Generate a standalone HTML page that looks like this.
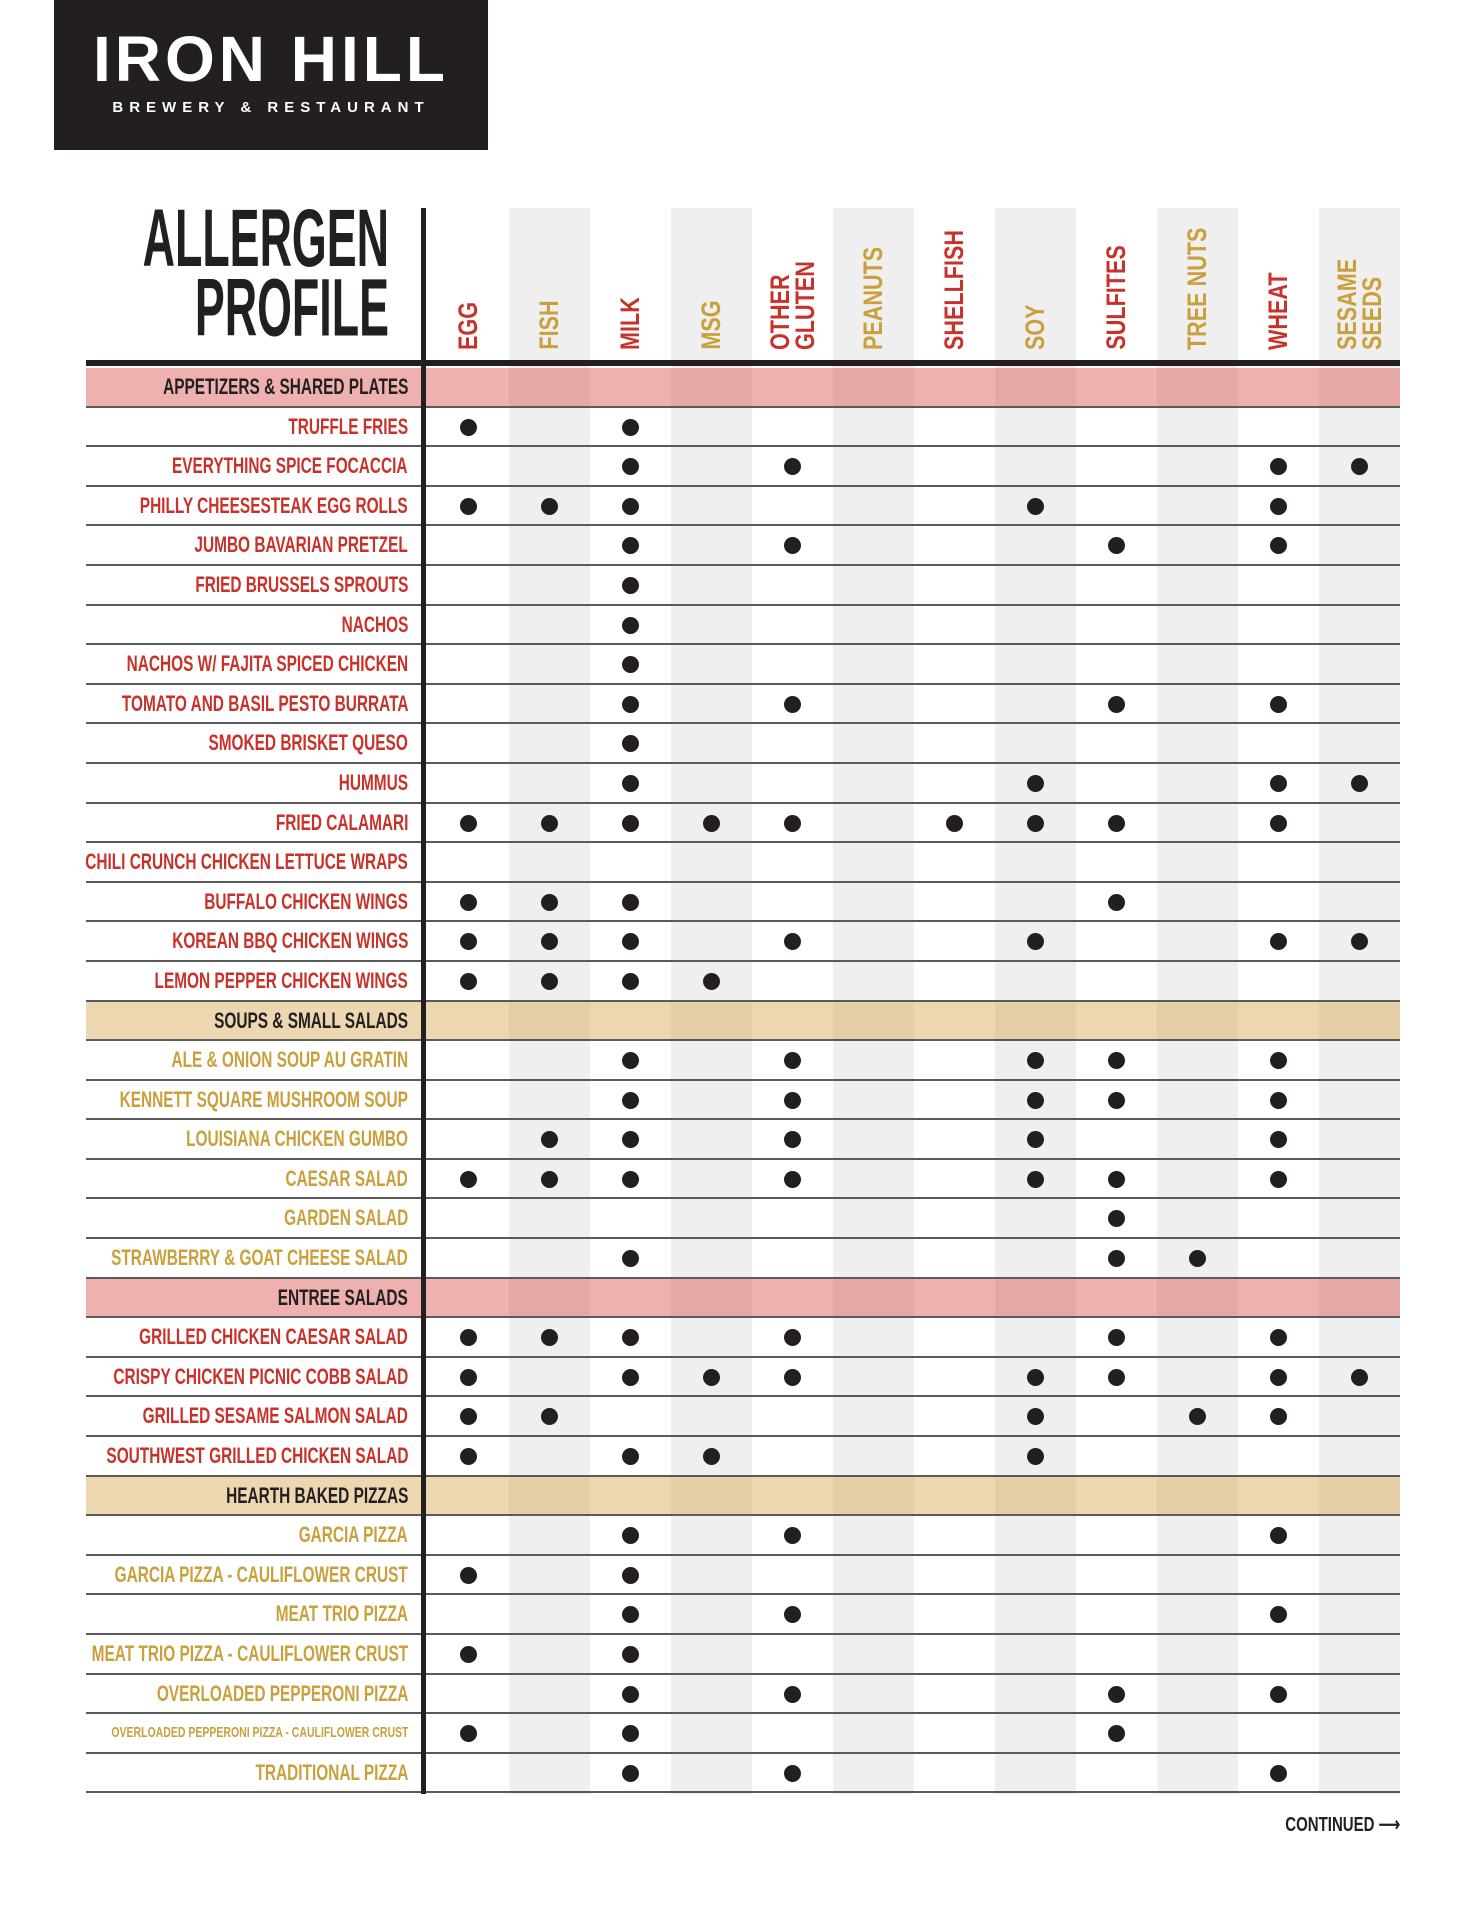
<!DOCTYPE html>
<html><head><meta charset="utf-8"><style>
*{margin:0;padding:0;box-sizing:border-box}
body{width:1484px;height:1920px;background:#fff;position:relative;overflow:hidden;font-family:"Liberation Sans Narrow","Liberation Sans",sans-serif;font-weight:bold}
.logo{position:absolute;left:54px;top:0;width:434px;height:150px;background:#231f20;color:#fff;text-align:center}
.logo .big{position:absolute;left:0;right:0;top:22px;font-size:64px;letter-spacing:4px;font-family:"Liberation Sans",sans-serif;font-weight:bold}
.logo .small{position:absolute;left:0;right:0;top:99px;font-size:15px;letter-spacing:6px}
.title{position:absolute;right:1095px;top:204px;font-size:80px;line-height:68px;text-align:right;color:#231f20;transform:scale(0.56,1.02);transform-origin:right top}
.band{position:absolute;top:208px;height:1586px;width:81px;background:#efefef}
.vline{position:absolute;left:421px;top:208px;width:5px;height:1586px;background:#231f20;z-index:5}
.thick{position:absolute;left:86px;top:360px;width:1314px;height:6px;background:#231f20;z-index:4}
.hd{position:absolute;top:150px;height:200px;width:81px;display:flex;justify-content:center;align-items:flex-end;transform:scaleY(0.8);transform-origin:center bottom}
.hd span{writing-mode:vertical-rl;transform:rotate(180deg);font-size:27px;line-height:25px}
.r{color:#c8322a}.g{color:#c9a03c}
.rows{position:absolute;left:86px;top:368px;width:1314px}
.row{height:39.6px;position:relative;border-bottom:2px solid #5a5a5a}
.row .lab{position:absolute;right:992px;top:0;height:38px;line-height:38px;font-size:22px;white-space:nowrap;transform:scaleX(0.70);transform-origin:right center}
.sec{background:rgba(215,70,65,.42)}
.sec .lab{color:#231f20}
.tan{background:rgba(210,160,70,.42)}
.tan .lab{color:#231f20}
.d{position:absolute;width:17px;height:17px;border-radius:50%;background:#231f20;top:11px}
.cont{position:absolute;right:84px;top:1812px;font-size:20px;color:#231f20;transform:scaleX(0.75);transform-origin:right center;white-space:nowrap}
</style></head><body>
<div class="logo"><div class="big">IRON HILL</div><div class="small">BREWERY &amp; RESTAURANT</div></div>
<div class="title">ALLERGEN<br>PROFILE</div>
<div class="band" style="left:509px"></div>
<div class="band" style="left:671px"></div>
<div class="band" style="left:833px"></div>
<div class="band" style="left:995px"></div>
<div class="band" style="left:1157px"></div>
<div class="band" style="left:1319px"></div>
<div class="vline"></div>
<div class="thick"></div>
<div class="hd r" style="left:428px"><span>EGG</span></div>
<div class="hd g" style="left:509px"><span>FISH</span></div>
<div class="hd r" style="left:590px"><span>MILK</span></div>
<div class="hd g" style="left:671px"><span>MSG</span></div>
<div class="hd r" style="left:752px"><span>OTHER<br>GLUTEN</span></div>
<div class="hd g" style="left:833px"><span>PEANUTS</span></div>
<div class="hd r" style="left:914px"><span>SHELLFISH</span></div>
<div class="hd g" style="left:995px"><span>SOY</span></div>
<div class="hd r" style="left:1076px"><span>SULFITES</span></div>
<div class="hd g" style="left:1157px"><span>TREE NUTS</span></div>
<div class="hd r" style="left:1238px"><span>WHEAT</span></div>
<div class="hd g" style="left:1319px"><span>SESAME<br>SEEDS</span></div>
<div class="rows">
<div class="row sec"><div class="lab">APPETIZERS &amp; SHARED PLATES</div></div>
<div class="row r"><div class="lab">TRUFFLE FRIES</div><i class="d" style="left:374px"></i><i class="d" style="left:536px"></i></div>
<div class="row r"><div class="lab">EVERYTHING SPICE FOCACCIA</div><i class="d" style="left:536px"></i><i class="d" style="left:698px"></i><i class="d" style="left:1184px"></i><i class="d" style="left:1265px"></i></div>
<div class="row r"><div class="lab">PHILLY CHEESESTEAK EGG ROLLS</div><i class="d" style="left:374px"></i><i class="d" style="left:455px"></i><i class="d" style="left:536px"></i><i class="d" style="left:941px"></i><i class="d" style="left:1184px"></i></div>
<div class="row r"><div class="lab">JUMBO BAVARIAN PRETZEL</div><i class="d" style="left:536px"></i><i class="d" style="left:698px"></i><i class="d" style="left:1022px"></i><i class="d" style="left:1184px"></i></div>
<div class="row r"><div class="lab">FRIED BRUSSELS SPROUTS</div><i class="d" style="left:536px"></i></div>
<div class="row r"><div class="lab">NACHOS</div><i class="d" style="left:536px"></i></div>
<div class="row r"><div class="lab">NACHOS W/ FAJITA SPICED CHICKEN</div><i class="d" style="left:536px"></i></div>
<div class="row r"><div class="lab">TOMATO AND BASIL PESTO BURRATA</div><i class="d" style="left:536px"></i><i class="d" style="left:698px"></i><i class="d" style="left:1022px"></i><i class="d" style="left:1184px"></i></div>
<div class="row r"><div class="lab">SMOKED BRISKET QUESO</div><i class="d" style="left:536px"></i></div>
<div class="row r"><div class="lab">HUMMUS</div><i class="d" style="left:536px"></i><i class="d" style="left:941px"></i><i class="d" style="left:1184px"></i><i class="d" style="left:1265px"></i></div>
<div class="row r"><div class="lab">FRIED CALAMARI</div><i class="d" style="left:374px"></i><i class="d" style="left:455px"></i><i class="d" style="left:536px"></i><i class="d" style="left:617px"></i><i class="d" style="left:698px"></i><i class="d" style="left:860px"></i><i class="d" style="left:941px"></i><i class="d" style="left:1022px"></i><i class="d" style="left:1184px"></i></div>
<div class="row r"><div class="lab">CHILI CRUNCH CHICKEN LETTUCE WRAPS</div></div>
<div class="row r"><div class="lab">BUFFALO CHICKEN WINGS</div><i class="d" style="left:374px"></i><i class="d" style="left:455px"></i><i class="d" style="left:536px"></i><i class="d" style="left:1022px"></i></div>
<div class="row r"><div class="lab">KOREAN BBQ CHICKEN WINGS</div><i class="d" style="left:374px"></i><i class="d" style="left:455px"></i><i class="d" style="left:536px"></i><i class="d" style="left:698px"></i><i class="d" style="left:941px"></i><i class="d" style="left:1184px"></i><i class="d" style="left:1265px"></i></div>
<div class="row r"><div class="lab">LEMON PEPPER CHICKEN WINGS</div><i class="d" style="left:374px"></i><i class="d" style="left:455px"></i><i class="d" style="left:536px"></i><i class="d" style="left:617px"></i></div>
<div class="row tan"><div class="lab">SOUPS &amp; SMALL SALADS</div></div>
<div class="row g"><div class="lab">ALE &amp; ONION SOUP AU GRATIN</div><i class="d" style="left:536px"></i><i class="d" style="left:698px"></i><i class="d" style="left:941px"></i><i class="d" style="left:1022px"></i><i class="d" style="left:1184px"></i></div>
<div class="row g"><div class="lab">KENNETT SQUARE MUSHROOM SOUP</div><i class="d" style="left:536px"></i><i class="d" style="left:698px"></i><i class="d" style="left:941px"></i><i class="d" style="left:1022px"></i><i class="d" style="left:1184px"></i></div>
<div class="row g"><div class="lab">LOUISIANA CHICKEN GUMBO</div><i class="d" style="left:455px"></i><i class="d" style="left:536px"></i><i class="d" style="left:698px"></i><i class="d" style="left:941px"></i><i class="d" style="left:1184px"></i></div>
<div class="row g"><div class="lab">CAESAR SALAD</div><i class="d" style="left:374px"></i><i class="d" style="left:455px"></i><i class="d" style="left:536px"></i><i class="d" style="left:698px"></i><i class="d" style="left:941px"></i><i class="d" style="left:1022px"></i><i class="d" style="left:1184px"></i></div>
<div class="row g"><div class="lab">GARDEN SALAD</div><i class="d" style="left:1022px"></i></div>
<div class="row g"><div class="lab">STRAWBERRY &amp; GOAT CHEESE SALAD</div><i class="d" style="left:536px"></i><i class="d" style="left:1022px"></i><i class="d" style="left:1103px"></i></div>
<div class="row sec"><div class="lab">ENTREE SALADS</div></div>
<div class="row r"><div class="lab">GRILLED CHICKEN CAESAR SALAD</div><i class="d" style="left:374px"></i><i class="d" style="left:455px"></i><i class="d" style="left:536px"></i><i class="d" style="left:698px"></i><i class="d" style="left:1022px"></i><i class="d" style="left:1184px"></i></div>
<div class="row r"><div class="lab">CRISPY CHICKEN PICNIC COBB SALAD</div><i class="d" style="left:374px"></i><i class="d" style="left:536px"></i><i class="d" style="left:617px"></i><i class="d" style="left:698px"></i><i class="d" style="left:941px"></i><i class="d" style="left:1022px"></i><i class="d" style="left:1184px"></i><i class="d" style="left:1265px"></i></div>
<div class="row r"><div class="lab">GRILLED SESAME SALMON SALAD</div><i class="d" style="left:374px"></i><i class="d" style="left:455px"></i><i class="d" style="left:941px"></i><i class="d" style="left:1103px"></i><i class="d" style="left:1184px"></i></div>
<div class="row r"><div class="lab">SOUTHWEST GRILLED CHICKEN SALAD</div><i class="d" style="left:374px"></i><i class="d" style="left:536px"></i><i class="d" style="left:617px"></i><i class="d" style="left:941px"></i></div>
<div class="row tan"><div class="lab">HEARTH BAKED PIZZAS</div></div>
<div class="row g"><div class="lab">GARCIA PIZZA</div><i class="d" style="left:536px"></i><i class="d" style="left:698px"></i><i class="d" style="left:1184px"></i></div>
<div class="row g"><div class="lab">GARCIA PIZZA - CAULIFLOWER CRUST</div><i class="d" style="left:374px"></i><i class="d" style="left:536px"></i></div>
<div class="row g"><div class="lab">MEAT TRIO PIZZA</div><i class="d" style="left:536px"></i><i class="d" style="left:698px"></i><i class="d" style="left:1184px"></i></div>
<div class="row g"><div class="lab">MEAT TRIO PIZZA - CAULIFLOWER CRUST</div><i class="d" style="left:374px"></i><i class="d" style="left:536px"></i></div>
<div class="row g"><div class="lab">OVERLOADED PEPPERONI PIZZA</div><i class="d" style="left:536px"></i><i class="d" style="left:698px"></i><i class="d" style="left:1022px"></i><i class="d" style="left:1184px"></i></div>
<div class="row g"><div class="lab" style="font-size:15px">OVERLOADED PEPPERONI PIZZA - CAULIFLOWER CRUST</div><i class="d" style="left:374px"></i><i class="d" style="left:536px"></i><i class="d" style="left:1022px"></i></div>
<div class="row g"><div class="lab">TRADITIONAL PIZZA</div><i class="d" style="left:536px"></i><i class="d" style="left:698px"></i><i class="d" style="left:1184px"></i></div>
</div>
<div class="cont">CONTINUED ⟶</div>
</body></html>
